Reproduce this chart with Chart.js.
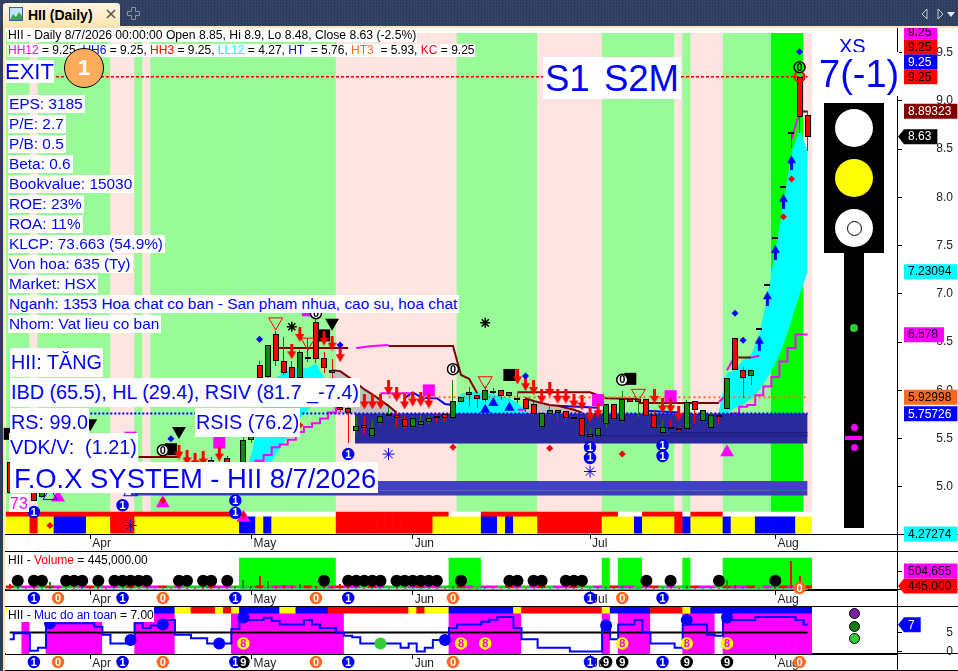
<!DOCTYPE html>
<html>
<head>
<meta charset="utf-8">
<title>HII (Daily)</title>
<script src="https://cdn.jsdelivr.net/npm/chart.js"></script>
<style>
html,body{margin:0;padding:0;background:#fff;overflow:hidden}
#frame{position:relative;width:958px;height:671px;overflow:hidden;background:#fff;font-family:"Liberation Sans",Arial,sans-serif}
#frame canvas{position:absolute;left:0}
.bar{position:absolute;left:0;top:0;width:958px;height:26px;background:repeating-conic-gradient(#2c3c5a 0 25%,#34466a 0 50%) 0 0/3px 3px}
.edge{position:absolute;left:0;top:26px;width:3px;height:645px;background:#2c3c5a}
.cream{position:absolute;left:3px;top:26px;width:955px;height:2px;background:#fde4b2}
.creamL{position:absolute;left:3px;top:26px;width:2px;height:645px;background:#fde4b2}
.tab{position:absolute;left:3px;top:3px;width:117px;height:23px;background:linear-gradient(#fff6e2,#fde4b2);border-radius:3px 3px 0 0;font:bold 14px "Liberation Sans";color:#000;line-height:24px;text-indent:25px}
.rule{position:absolute;left:5px;width:953px;height:1px;background:#000}
.axis{position:absolute;left:897px;top:28px;width:1px;height:643px;background:#000}
.t{position:absolute;background:#fff;color:#0000ff;white-space:nowrap;font-family:"Liberation Sans",Arial,sans-serif}
.h{font-size:12px;color:#000;height:13px;line-height:13px;padding:0 1px}
.l{font-size:15.4px;left:8px;height:18px;line-height:18px;padding:0 2px 0 1px}
.b{font-size:19.8px;height:29px;line-height:29px;padding:0 1px}
.dot{position:absolute;border-radius:50%}
.shape{position:absolute;background:#000}
</style>
</head>
<body>
<div id="frame">
  <div class="bar"></div><div class="edge"></div><div class="cream"></div><div class="creamL"></div>
  <div class="tab">HII (Daily)</div>
  <svg style="position:absolute;left:9px;top:7px" width="14" height="14"><rect x=".5" y=".5" width="13" height="13" fill="#bfe3f7" stroke="#35618f"/><path d="M1 13 L4 7 L7 10 L10 5 L13 9 L13 13Z" fill="#3fa34d"/></svg>
  <svg style="position:absolute;left:105px;top:9px" width="12" height="10"><path d="M2 1 L10 9 M10 1 L2 9" stroke="#555" stroke-width="1.6"/></svg>
  <svg style="position:absolute;left:127px;top:7px" width="13" height="13"><path d="M4.5 .5 H8.5 V4.5 H12.5 V8.5 H8.5 V12.5 H4.5 V8.5 H.5 V4.5 H4.5Z" fill="none" stroke="#8b94a5"/></svg>
  <svg style="position:absolute;left:920px;top:7px" width="36" height="14"><path d="M7 2 L2 7 L7 12Z M18 2 L23 7 L18 12Z" fill="none" stroke="#c4cad6"/><path d="M27 5 H35 L31 10Z" fill="#e6e9ef"/></svg>

  <div class="rule" style="top:534px"></div>
  <div class="rule" style="top:551px"></div>
  <div class="rule" style="top:589px"></div>
  <div class="rule" style="top:606px"></div>
  <div class="rule" style="top:653px"></div>
  <div class="rule" style="top:670px"></div>
  <div class="axis"></div>

  <canvas id="priceChart" style="top:28px" width="958" height="523"></canvas>
  <canvas id="volumeChart" style="top:551px" width="958" height="56"></canvas>
  <canvas id="safetyChart" style="top:606px" width="958" height="65"></canvas>

  <div class="t h" style="left:7px;top:29px;font-size:12.15px">HII - Daily 8/7/2026 00:00:00 Open 8.85, Hi 8.9, Lo 8.48, Close 8.63 (-2.5%)</div>
  <div class="t h" style="left:7px;top:44px"><span style="color:#ff00ff">HH12</span> = 9.25, <span style="color:#0000ff">HH6</span> = 9.25, <span style="color:#ff0000">HH3</span> = 9.25, <span style="color:#00ffff">LL12</span> = 4.27, <span style="color:#0000ff">HT</span> &nbsp;= 5.76, <span style="color:#ff6a1f">HT3</span> &nbsp;= 5.93, <span style="color:#ff0000">KC</span> = 9.25</div>
  <div class="t" style="left:5px;top:60px;font-size:22px;height:23px;line-height:23px">EXIT</div>
  <div class="dot" style="left:64px;top:48px;width:38px;height:38px;background:#ffad5c;border:1px solid #000;color:#fff;font:bold 22px/38px 'Liberation Sans';text-align:center">1</div>
  <div class="t" style="left:543px;top:57px;font-size:36.5px;height:42px;line-height:44px;padding:0 2px;word-spacing:-3px">S1&nbsp; S2M</div>

  <div class="t l" style="top:95px">EPS: 3185</div>
  <div class="t l" style="top:115px">P/E: 2.7</div>
  <div class="t l" style="top:135px">P/B: 0.5</div>
  <div class="t l" style="top:155px">Beta: 0.6</div>
  <div class="t l" style="top:175px">Bookvalue: 15030</div>
  <div class="t l" style="top:195px">ROE: 23%</div>
  <div class="t l" style="top:215px">ROA: 11%</div>
  <div class="t l" style="top:235px">KLCP: 73.663 (54.9%)</div>
  <div class="t l" style="top:255px">Von hoa: 635 (Ty)</div>
  <div class="t l" style="top:275px">Market: HSX</div>
  <div class="t l" style="top:295px">Nganh: 1353 Hoa chat co ban - San pham nhua, cao su, hoa chat</div>
  <div class="t l" style="top:315px">Nhom: Vat lieu co ban</div>

  <div class="t b" style="left:10px;top:348px">HII: TĂNG</div>
  <div class="t b" style="left:10px;top:378px">IBD (65.5), HL (29.4), RSIV (81.7 _-7.4)</div>
  <div class="t b" style="left:10px;top:408px">RS: 99.0</div>
  <div class="t b" style="left:195px;top:408px">RSIS (76.2)</div>
  <div class="t b" style="left:9px;top:433px">VDK/V:&nbsp; (1.21)</div>
  <div class="t" style="left:10px;top:462px;font-size:27.4px;height:31px;line-height:33px;padding:0 2px 0 4px">F.O.X SYSTEM - HII 8/7/2026</div>
  <div class="t" style="left:9px;top:494px;font-size:16px;height:18px;line-height:19px;color:#ff00ff;padding:0 1px">73</div>

  <div class="t" style="left:839px;top:35px;font-size:20px;line-height:22px;background:none">XS</div>
  <div class="t" style="left:819px;top:52px;font-size:38px;height:44px;line-height:44px">7(-1)</div>

  <div class="shape" style="left:824px;top:103px;width:60px;height:150px"></div>
  <div class="shape" style="left:844px;top:253px;width:20px;height:275px"></div>
  <div class="dot" style="left:835px;top:109px;width:38px;height:38px;background:#fff"></div>
  <div class="dot" style="left:835px;top:159px;width:38px;height:38px;background:#ffff00"></div>
  <div class="dot" style="left:835px;top:209px;width:38px;height:38px;background:#fff"></div>
  <div class="dot" style="left:847px;top:221px;width:13px;height:13px;border:1px solid #000"></div>
  <div class="dot" style="left:850px;top:324px;width:8px;height:8px;background:#32cd32"></div>
  <div class="dot" style="left:851px;top:424px;width:7px;height:7px;background:#ff00ff"></div>
  <div class="shape" style="left:845px;top:436px;width:17px;height:4px;background:#ff00ff"></div>
  <div class="dot" style="left:851px;top:444px;width:7px;height:7px;background:#ff00ff"></div>

  <div class="t h" style="left:7px;top:554px;height:13px"><span style="color:#000">HII - </span><span style="color:#ff0000">Volume</span> = 445,000.00</div>
  <div class="t h" style="left:7px;top:607px;height:15px;line-height:17px;width:145px"><span style="color:#000">HII - </span><span style="color:#0000ff">Muc do an toan</span> <span style="color:#000">= 7.00</span></div>
  <div class="dot" style="left:849px;top:608px;width:9px;height:9px;background:#7b1fa2;border:1px solid #000"></div>
  <div class="dot" style="left:849px;top:621px;width:9px;height:9px;background:#0a7d0a;border:1px solid #000"></div>
  <div class="dot" style="left:849px;top:633px;width:9px;height:9px;background:#32cd32;border:1px solid #000"></div>
</div>

<script>
// ─── Price panel data (bar 0 = first visible day, bar 99 = 8/7/2026) ─────────
const monthTicks = [10, 30, 50, 72, 95];
const monthNames = ['Apr', 'May', 'Jun', 'Jul', 'Aug'];
const priceTicks = [5, 5.5, 6, 6.5, 7, 7.5, 8, 8.5, 9, 9.5];

const openPx = [5.26,5.00,5.05,5.02,4.90,5.02,5.08,5.05,5.09,5.06,5.10,5.08,5.05,5.02,5.06,5.10,5.12,5.08,5.12,5.10,
  5.14,5.15,5.12,5.10,5.08,5.28,5.14,5.30,5.18,5.20,5.49,6.26,6.14,6.58,6.30,6.24,6.13,6.35,6.71,6.34,
  6.21,5.83,5.82,5.58,5.64,5.53,5.66,5.73,5.75,5.70,5.62,5.64,5.67,5.73,5.76,5.71,5.88,5.98,5.95,5.90,
  5.99,6.00,5.94,5.92,5.91,5.86,5.62,5.76,5.80,5.79,5.72,5.71,5.52,5.53,5.65,5.86,5.68,5.91,5.88,5.91,
  5.75,5.56,5.62,5.61,5.60,5.89,5.68,5.61,5.75,5.81,6.54,6.21,6.15,6.65,7.10,7.59,8.12,8.68,9.25,8.85];
const highPx = [5.30,5.05,5.12,5.05,5.05,5.10,5.12,5.10,5.14,5.12,5.15,5.12,5.08,5.08,5.12,5.18,5.18,5.14,5.18,5.16,
  5.20,5.20,5.18,5.16,5.14,5.31,5.18,5.32,5.22,5.52,5.70,6.30,6.47,6.62,6.55,6.30,6.42,6.54,6.78,6.40,
  6.33,5.88,5.85,5.72,5.72,5.68,5.76,5.84,5.78,5.73,5.74,5.76,5.73,5.76,5.76,6.11,5.93,6.04,5.95,6.05,
  6.02,6.00,5.98,5.97,5.93,5.88,5.77,5.86,5.80,5.79,5.72,5.71,5.61,5.61,5.86,5.86,5.99,5.91,5.91,5.91,
  5.79,5.69,5.69,5.62,5.90,5.89,5.80,5.78,5.75,6.13,6.54,6.24,6.21,6.65,7.10,7.59,8.12,8.68,9.25,8.90];
const lowPx = [4.90,4.96,5.00,4.85,4.88,5.00,5.03,5.02,5.05,5.04,5.06,5.02,5.00,4.98,5.03,5.06,5.06,5.04,5.08,5.06,
  5.08,5.08,5.06,5.04,5.02,5.12,5.08,5.14,5.10,5.16,5.45,6.05,6.10,6.25,6.16,6.08,6.10,6.29,6.28,6.18,
  6.05,5.78,5.46,5.56,5.55,5.52,5.64,5.72,5.62,5.60,5.61,5.62,5.65,5.66,5.67,5.71,5.87,5.84,5.82,5.88,
  5.96,5.90,5.93,5.87,5.78,5.74,5.62,5.73,5.67,5.67,5.71,5.53,5.51,5.53,5.61,5.70,5.66,5.88,5.72,5.74,
  5.61,5.56,5.61,5.57,5.60,5.65,5.68,5.61,5.65,5.81,6.21,5.92,6.06,6.64,7.09,7.58,8.11,8.51,8.67,8.48];
const closePx = [4.94,5.04,5.02,4.85,5.02,5.08,5.05,5.09,5.06,5.10,5.08,5.05,5.02,5.06,5.10,5.12,5.08,5.12,5.10,5.14,
  5.10,5.10,5.08,5.06,5.04,5.14,5.16,5.18,5.20,5.49,5.68,6.13,6.47,6.30,6.18,6.13,6.40,6.33,6.33,6.23,
  6.18,5.80,5.77,5.63,5.61,5.61,5.73,5.76,5.71,5.62,5.71,5.68,5.71,5.72,5.71,5.89,5.93,5.95,5.91,6.00,
  5.97,5.94,5.98,5.91,5.81,5.76,5.77,5.80,5.77,5.71,5.71,5.53,5.55,5.61,5.86,5.70,5.91,5.88,5.91,5.74,
  5.61,5.62,5.61,5.60,5.88,5.80,5.80,5.75,5.74,6.13,6.21,6.13,6.21,6.64,7.09,7.58,8.11,8.67,8.83,8.63];

// day colour bands, each run is [colour key, first bar after the run]
const priceBandRuns = [['G',3],['P',4],['G',13],['P',16],['G',17],['P',18],['G',41],['P',56],['G',66],['P',74],['G',83],['P',84],['G',85],['P',89],['G',95],['L',99],['P',100]];
const signalRowA = [['R',29],['W',41],['R',55],['W',59],['R',76],['W',79],['R',84],['W',85],['R',89],['W',100]];
const signalRowB = [['Y',3],['R',4],['Y',6],['B',10],['Y',13],['R',16],['Y',29],['B',31],['Y',32],['B',33],['Y',41],['R',53],['Y',59],['B',61],['Y',62],['B',63],['Y',66],['R',74],['Y',78],['B',79],['Y',83],['R',84],['B',85],['Y',89],['B',90],['Y',93],['B',98],['Y',100]];

const cyanLeftTop = [[29,5.08],[30,5.35],[31,5.71],[32,6.05],[33,6.13],[34,6.18],[35,6.23],[36,6.23],[37,6.23],[38,6.28],[39,6.13],[40,5.98]];
const cyanLeftLow = [[29,5.06],[30,5.06],[31,5.09],[32,5.19],[33,5.33],[34,5.46],[35,5.59],[36,5.71],[37,5.80],[38,5.87],[39,5.94],[40,5.98]];
const cyanMidTop = [[55,5.77],[56,5.96],[57,5.98],[58,5.98],[59,5.97],[60,5.96],[61,5.94],[62,5.92],[63,5.87],[64,5.80]];
const cyanRightTop = [[88,5.79],[89,6.18],[90,6.21],[91,6.32],[92,6.37],[93,6.58],[94,6.97],[95,7.45],[96,7.94],[97,8.46],[98,8.70],[99,8.49]];
const cyanRightLow = [[88,5.76],[89,5.76],[90,5.82],[91,5.86],[92,5.92],[93,6.00],[94,6.13],[95,6.28],[96,6.47],[97,6.73],[98,6.99],[99,7.23]];
const greyTopA = [[40,6.21],[41,6.20],[42,6.14],[43,6.08],[44,6.01],[45,5.96],[46,5.90],[47,5.84],[48,5.77]];
const greyTopB = [[64,5.92],[65,5.89],[66,5.87],[67,5.85],[68,5.84],[69,5.82],[70,5.80],[71,5.77]];

const brownLine = [[16,5.31],[21,5.31],null,[33,6.44],[42,6.44],null,[47,6.46],[55,6.46],[56,6.16],[57,6.12],[58,5.97],null,[63,5.98],[72,5.98],[74,5.92],[78,5.91],null,[78,5.87],[88,5.87],null,[90,6.34],[92,6.34],null,[98,8.89],[99,8.89]];
const brownDescent = [[40,6.21],[41,6.20],[42,6.14],[43,6.08],[44,6.01],[45,5.96],[46,5.90],[47,5.84],[48,5.77],null,[64,5.92],[65,5.89],[66,5.87],[67,5.85],[68,5.84],[69,5.82],[70,5.80],[71,5.77]];
const magentaUpper = [[43,6.44],[45,6.46],[47,6.47],null,[46,5.97],[50,5.97],null,[63,5.80],[64,5.80],null,[88,5.88],[89,5.96],null,[89,6.21],[90,6.36],null,[92,6.34],[93,6.36],null,[97,8.60],[98,8.89]];
const magentaSteps = [[30,5.20],[31,5.27],[32,5.33],[33,5.41],[34,5.44],[35,5.49],[36,5.57],[37,5.62],[38,5.66],[39,5.71],[40,5.77],[41,5.85],null,[89,5.72],[90,5.76],[91,5.83],[92,5.85],[93,5.95],[94,6.04],[95,6.14],[96,6.30],[97,6.44],[98,6.58],[99,6.58]];
const blueLine = [[49,5.92],[50,5.98],[51,5.93],[52,5.92],[53,5.92],[54,5.86],[55,5.85],null,[68,5.84],[73,5.82],null,[79,5.79],[83,5.77]];
const navyLevels = [[42.84,5.76],[99,5.76]];
const navyFloor = 5.45;
const indigoLevels = [[15,5.06],[99,5.06]];
const indigoFloor = 4.96;
const indigoLower = [[15,4.96],[99,4.96]];
const indigoLowerFloor = 4.91;
const darkRuleA = [[73,5.53],[99,5.53]];
const darkRuleB = [[82,5.56],[99,5.56]];
const hhLevel = [[5.75,9.25],[99,9.25]];
const htLevel = [[10,5.76],[99,5.76]];
const ht3Level = [[47,5.93],[99,5.93]];

// ─── Price panel marks: [bar, price] ─────────────────────────────────────────
const sellArrows = [[21,5.36],[22,5.30],[23,5.27],[24,5.29],[26,5.34],[35,6.40],[36,6.58],[39,6.54],[40,6.49],[41,6.37],[44,5.88],[45,5.88],[46,5.88],[47,6.03],[48,5.96],[49,5.88],[50,5.91],[51,5.91],[52,5.89],[63,6.14],[64,6.07],[65,6.03],[66,5.94],[67,6.01],[68,5.94],[69,5.94],[70,5.89],[71,5.87],[72,5.75],[73,5.79],[80,5.94],[81,5.84],[82,5.84],[83,5.76]];
const buyArrows = [[93,6.49],[94,6.95],[95,7.43],[96,7.96],[97,8.36]];
const blueWedges = [[59,5.80],[60,5.87],[62,5.82]];
const redDiamonds = [[5,4.60],[19,4.86],[29,4.71],[36,5.64],[55,5.41],[67,5.40],[76,5.34],[96,7.80],[97,8.19]];
const blueDiamonds = [[20,5.50],[31,6.53],[41,6.47],[64,6.15],[90,6.80],[91,6.52],[98,9.51]];
const magentaSquares = [[15,5.51],[26,5.46],[37,6.83],[52,6.00],[73,5.90],[82,5.94]];
const blackSquares = [[0,5.55],[20,5.39],[39,6.57],[62,6.16],[77,6.12]];
const magentaWedges = [[6,4.89],[19,4.83],[29,4.68],[89,5.36]];
const hollowWedges = [[5,4.91],[15,4.95]];
const hollowDrops = [[33,6.71],[37,6.50],[59,6.10],[78,5.97]];
const blackDrops = [[10,5.66],[21,5.58],[40,6.70]];
const blackStars = [[35,6.66],[59,6.70]];
const snowMarks = [[15,4.60],[47,5.34],[72,5.16]];
const exitRing = [[98,9.25]];

const priceBadges = [[3,4.74,'blue','1'],[14,4.81,'blue','1'],[28,4.86,'blue','1'],[28,4.73,'blue','1'],[42,5.34,'blue','1'],[72,5.41,'blue','1'],[72,5.30,'blue','1'],[81,5.43,'blue','1'],[81,5.32,'blue','1'],
  [19,5.38,'open','0'],[38,6.80,'open','0'],[55,6.22,'open','0'],[76,6.11,'open','0'],[98,9.35,'lime','0']];

const priceTagValues = [9.25,9.25,9.25,9.25,8.89323,8.63,7.23094,6.578,5.92998,5.75726,4.27274];
const priceTagTexts = ['9.25','9.25','9.25','9.25','8.89323','8.63','7.23094','6.578','5.92998','5.75726','4.27274'];
const priceTagFills = ['#ff00ff','#ff0000','#0000ff','#ff0000','#800000','#000000','#00ffff','#ff00ff','#ff6a1f','#0000ff','#00ffff'];
const priceTagInks = ['#000','#000','#fff','#000','#fff','#fff','#000','#000','#000','#fff','#000'];
const priceTagPoint = [false,false,false,false,false,true,false,false,false,false,false];

// ─── Volume panel data ───────────────────────────────────────────────────────
const volumeTicks = [2500000];
const volumes = [700000,300000,200000,300000,200000,1000000,300000,200000,200000,300000,200000,300000,200000,200000,300000,200000,200000,300000,200000,300000,
  200000,300000,200000,200000,300000,200000,300000,200000,400000,1300000,400000,1800000,1200000,500000,600000,400000,700000,400000,500000,300000,
  400000,700000,400000,200000,200000,300000,200000,200000,300000,200000,200000,200000,300000,200000,200000,500000,200000,200000,200000,300000,
  200000,200000,300000,200000,200000,200000,300000,200000,200000,200000,300000,200000,200000,300000,300000,200000,400000,300000,200000,200000,
  300000,200000,200000,200000,400000,200000,200000,200000,200000,1300000,600000,300000,300000,200000,200000,300000,450000,4000000,1900000,445000];
const volumeSpots = [1,3,4,7,8,9,11,13,14,15,16,17,21,22,24,25,27,39,42,43,44,45,46,48,49,50,51,52,53,56,62,63,65,66,69,70,71,79,82,88,95];
const volumeSpotLevel = 1180000;
const volumeBandRuns = [['W',29],['L',41],['W',55],['L',59],['W',74],['L',75],['W',76],['L',79],['W',84],['L',85],['W',89],['L',100]];
const volumeStrip = 'rgmmgrmggmrgmmgrgmmrgmgggrmmgggrgmmmgrggmrmmgrmgggmrmmggrmgmmgrmgmrgmmrggmgrmmgmrgmggrmmgrmmrgmgrmrr';
const volumeBadges = [[98,'orange','0']];
const volumeAxisBadges = [[3,'blue','1'],[6,'orange','0'],[14,'blue','1'],[19,'orange','0'],[28,'blue','1'],[38,'orange','0'],[42,'blue','1'],[55,'orange','0'],[72,'blue','1'],[76,'orange','0'],[81,'blue','1']];
const volumeTagValues = [504655,445000];
const volumeTagTexts = ['504,655','445,000'];
const volumeTagFills = ['#ff00ff','#ff0000'];
const volumeTagInks = ['#000','#000'];
const volumeTagPoint = [false,true];

// ─── Safety panel data ───────────────────────────────────────────────────────
const safetyTicks = [0, 5];
const safetyLevels = [3.3,4.8,4.8,0.3,1.1,7.4,7.4,7.4,7.4,7.4,7.4,6.5,4.4,2.2,2.2,3.1,7.4,6.2,6.8,7.0,
  8.2,4.4,4.4,3.5,3.5,2.2,2.2,2.2,5.9,9.0,8.2,8.2,8.8,8.0,7.1,7.1,7.1,8.2,7.1,6.2,
  6.2,4.9,4.2,3.8,2.2,2.2,2.2,2.2,2.2,1.1,2.2,0.1,1.1,3.1,3.1,6.2,7.1,7.1,7.1,7.8,
  8.3,9.0,9.0,6.2,3.3,3.3,1.1,1.1,1.1,1.1,0.1,0.1,0.1,0.1,6.8,3.3,7.1,7.1,8.2,5.1,
  2.2,2.2,2.2,1.1,7.1,7.1,7.1,4.4,4.2,8.2,8.2,8.2,8.2,9.0,9.0,9.0,9.0,9.0,8.2,7.1];
const safetyLine = [[0,5],[99,5]];
const safetyBandRuns = [['W',2],['M',3],['W',5],['M',12],['W',16],['M',21],['W',28],['M',42],['W',55],['M',64],['W',74],['M',75],['W',76],['M',80],['W',84],['M',88],['W',89],['M',100]];
const safetyTopRuns = [['Y',18],['B',21],['Y',23],['R',26],['Y',27],['R',28],['Y',29],['B',34],['Y',36],['B',40],['R',50],['Y',51],['R',52],['Y',55],['B',63],['Y',64],['R',74],['Y',75],['B',80],['R',84],['Y',85],['B',100]];
const safetyBlueSpots = [[5,7.4],[15,3.1],[19,7.1],[26,2.2],[29,8.9],[54,3.1],[74,6.8],[84,8.2],[89,8.9]];
const safetyGreenSpots = [[46,2.2]];
const safetyBadges = [[29,2.2,'eight','8'],[56,2.2,'eight','8'],[59,2.2,'eight','8'],[76,2.2,'eight','8'],[84,2.2,'eight','8'],[89,2.2,'eight','8']];
const safetyAxisBadges = [[3,'blue','1'],[6,'orange','0'],[14,'blue','1'],[19,'orange','0'],[28,'blue','1'],[29,'black','9'],[38,'orange','0'],[42,'blue','1'],[55,'orange','0'],[72,'blue','1'],[74,'black','9'],[76,'black','9'],[81,'blue','1'],[84,'black','9'],[89,'black','9'],[98,'orange','0']];
const safetyTagValues = [7];
const safetyTagTexts = ['7'];
const safetyTagFills = ['#0000ff'];
const safetyTagInks = ['#fff'];
const safetyTagPoint = [true];

// ─── Styles ──────────────────────────────────────────────────────────────────
const FONT = '"Liberation Sans", Arial, sans-serif';
const BAND_COLORS = { G:'#98fb98', P:'#ffe4e1', L:'#00ff00', R:'#ff0000', W:'#ffffff', Y:'#ffff00', B:'#0000ff', M:'#ff00ff' };
const STRIP_COLORS = { r:'#ff0000', g:'#22cc22', m:'#ff00ff' };
const BADGES = {
  blue:   { fill:'#0000ff', ring:'#0000ff', ink:'#fff' },
  orange: { fill:'#ff6a1f', ring:'#ff6a1f', ink:'#fff' },
  black:  { fill:'#000',    ring:'#000',    ink:'#fff' },
  open:   { fill:'#fff',    ring:'#000',    ink:'#000' },
  lime:   { fill:'#00ff00', ring:'#000',    ink:'#000' },
  eight:  { fill:'#ffff00', ring:'#ffff00', ink:'#ff00ff' },
};
const XMIN = -0.5, XMAX = 110.09;

function expandRuns(runs) {
  const out = [];
  runs.forEach(([key, end]) => { while (out.length < end) out.push(key); });
  return out;
}

function toPoints(list) {
  let lastX = 0;
  return list.map(p => {
    if (!p) return { x: lastX, y: null };
    lastX = p[0];
    return { x: p[0], y: p[1] };
  });
}

function arrowIcon(color, up) {
  const c = document.createElement('canvas');
  c.width = 9; c.height = 15;
  const g = c.getContext('2d');
  g.fillStyle = color;
  if (!up) { g.translate(0, 15); g.scale(1, -1); }
  g.beginPath();
  g.moveTo(4.5, 0); g.lineTo(9, 8); g.lineTo(6, 8); g.lineTo(6, 15); g.lineTo(3, 15); g.lineTo(3, 8); g.lineTo(0, 8);
  g.closePath(); g.fill();
  return c;
}

// ─── Dataset helpers ─────────────────────────────────────────────────────────
function bandSet(runs, lo, hi, order) {
  const keys = expandRuns(runs);
  return { type:'bar', data: keys.map((k, i) => ({ x:i, y:[lo, hi] })), backgroundColor: keys.map(k => BAND_COLORS[k]),
    grouped:false, barPercentage:1, categoryPercentage:1, borderWidth:0, order };
}
function fillSet(points, fill, color, order) {
  return { type:'line', data: toPoints(points), borderWidth:0, pointRadius:0, fill, backgroundColor:color, tension:0, order };
}
function lineSet(points, color, width, order, extra) {
  return Object.assign({ type:'line', data: toPoints(points), borderColor:color, borderWidth:width, pointRadius:0, fill:false, tension:0, order }, extra || {});
}
function markSet(points, style, radius, fillColor, order, extra) {
  return Object.assign({ type:'line', data: toPoints(points), showLine:false, pointStyle:style, pointRadius:radius,
    pointBackgroundColor:fillColor, pointBorderColor:fillColor, pointBorderWidth:0, order, clip:false }, extra || {});
}

// ─── Plugin: crisp candles, badges and price tags ────────────────────────────
function panelExtras(opts) {
  return {
    id: 'panelExtras',
    afterDatasetsUpdate(chart) {
      chart.data.datasets.forEach((ds, di) => {
        if (!ds.snap) return;
        chart.getDatasetMeta(di).data.forEach(el => {
          el.x = ds.snap === 'thin' ? Math.floor(el.x) + 0.5 : Math.round(el.x);
          el.y = Math.round(el.y);
          el.base = Math.round(el.base);
          if (ds.snap === 'body' && Math.abs(el.base - el.y) < 2) el.base = el.y + 2;
        });
      });
    },
    afterDraw(chart) {
      const { ctx, chartArea, scales: { x, y } } = chart;
      ctx.save();
      ctx.textAlign = 'center'; ctx.textBaseline = 'middle';
      const badge = (px, py, kind, digit) => {
        const b = BADGES[kind];
        ctx.beginPath(); ctx.arc(px, py, 5.5, 0, Math.PI * 2);
        ctx.fillStyle = b.fill; ctx.fill();
        ctx.lineWidth = 1.5; ctx.strokeStyle = b.ring; ctx.stroke();
        ctx.fillStyle = b.ink; ctx.font = `bold 11px ${FONT}`;
        ctx.fillText(digit, px, py + 0.5);
      };
      (opts.badges || []).forEach(([i, v, kind, digit]) => badge(x.getPixelForValue(i), y.getPixelForValue(v), kind, digit));
      (opts.edgeBadges || []).forEach(([i, kind, digit]) => badge(x.getPixelForValue(i), chartArea.bottom - 2, kind, digit));
      (opts.axisBadges || []).forEach(([i, kind, digit]) => badge(x.getPixelForValue(i), chartArea.bottom + 8, kind, digit));

      // axis tags sit at their value and push upward when they would overlap
      ctx.font = `12px ${FONT}`;
      ctx.textAlign = 'left';
      let ceiling = Infinity;
      for (let i = opts.tagValues.length - 1; i >= 0; i--) {
        const want = Math.min(y.getPixelForValue(opts.tagValues[i]), chartArea.bottom);
        const cy = Math.min(want, ceiling - 15);
        ceiling = cy;
        const w = ctx.measureText(opts.tagTexts[i]).width + 10;
        ctx.fillStyle = opts.tagFills[i];
        ctx.beginPath();
        if (opts.tagPoint[i]) {
          ctx.moveTo(898, cy); ctx.lineTo(904, cy - 7.5); ctx.lineTo(904 + w, cy - 7.5); ctx.lineTo(904 + w, cy + 7.5); ctx.lineTo(904, cy + 7.5);
        } else {
          ctx.rect(904, cy - 7.5, w, 15);
        }
        ctx.closePath(); ctx.fill();
        ctx.fillStyle = opts.tagInks[i];
        ctx.fillText(opts.tagTexts[i], 908, cy + 0.5);
      }
      ctx.restore();
    }
  };
}

// tick labels must not eat into the plot, the panels are only a few pixels tall
function dropScalePadding(s) {
  s.paddingTop = 0; s.paddingBottom = 0; s.paddingLeft = 0; s.paddingRight = 0;
}

// ─── Shared chart options ────────────────────────────────────────────────────
function panelOptions(yMin, yMax, yTicks, yLabel, top) {
  return {
    responsive:false, animation:false, events:[],
    layout:{ autoPadding:false, padding:{ left:5.67, right:5, top, bottom:0 } },
    plugins:{ legend:{ display:false }, tooltip:{ enabled:false } },
    scales:{
      x:{ type:'linear', min:XMIN, max:XMAX, offset:false, bounds:'data',
        grid:{ display:true, drawOnChartArea:false, offset:false, tickLength:5, tickColor:'#000' },
        border:{ color:'#000' },
        afterBuildTicks(s){ s.ticks = monthTicks.map(v => ({ value:v })); },
        afterFit(s){ s.height = 17; dropScalePadding(s); },
        ticks:{ autoSkip:false, maxRotation:0, align:'start', padding:-3, labelOffset:2, color:'#222', font:{ family:FONT, size:12 },
          callback:v => monthNames[monthTicks.indexOf(v)] } },
      y:{ type:'linear', position:'right', min:yMin, max:yMax, bounds:'data',
        grid:{ display:true, drawOnChartArea:false, tickLength:5, tickColor:'#000' },
        border:{ color:'#000' },
        afterBuildTicks(s){ s.ticks = yTicks.map(v => ({ value:v })); },
        afterFit(s){ s.width = 56; dropScalePadding(s); },
        ticks:{ crossAlign:'far', padding:0, color:'#222', font:{ family:FONT, size:12 }, callback:yLabel } }
    }
  };
}

// ─── Price chart ─────────────────────────────────────────────────────────────
const PRICE_MIN = 4.512, PRICE_MAX = 9.704;
const candleColors = openPx.map((o, i) => closePx[i] < o ? '#ff0000' : '#0e8a0e');

new Chart(document.getElementById('priceChart'), {
  type:'bar',
  data:{ datasets:[
    bandSet(priceBandRuns, 4.74, PRICE_MAX, 100),
    bandSet(signalRowA, 4.69, 4.74, 95),
    bandSet(signalRowB, 4.52, 4.69, 94),
    fillSet(indigoLevels, { value:indigoFloor }, '#4141c4', 90),
    fillSet(indigoLower, { value:indigoLowerFloor }, '#3d3db6', 89),
    fillSet(cyanLeftTop, '+1', '#00ffff', 85),
    fillSet(cyanLeftLow, false, 'transparent', 85),
    fillSet(cyanRightTop, '+1', '#00ffff', 85),
    fillSet(cyanRightLow, false, 'transparent', 85),
    fillSet(cyanMidTop, { value:5.76 }, '#00ffff', 85),
    fillSet(greyTopA, { value:5.76 }, '#c0c0c0', 84),
    fillSet(greyTopB, { value:5.76 }, '#c0c0c0', 84),
    lineSet(magentaSteps, '#ff00ff', 2, 80, { stepped:'middle' }),
    lineSet(blueLine, '#0000ff', 2, 80),
    lineSet(brownLine, '#800000', 2, 79),
    lineSet(brownDescent, '#800000', 2, 79),
    lineSet(magentaUpper, '#ff00ff', 2, 78),
    fillSet(navyLevels, { value:navyFloor }, '#2a2a9c', 70),
    lineSet(darkRuleA, '#1a1a70', 1, 69),
    lineSet(darkRuleB, '#1a1a70', 1, 69),
    lineSet(htLevel, '#0000ff', 2, 68, { borderDash:[2, 2] }),
    lineSet(ht3Level, '#ff6a1f', 2, 67, { borderDash:[2, 3] }),
    lineSet(hhLevel, '#ff00ff', 1.5, 66, { borderDash:[1, 4] }),
    lineSet(hhLevel, '#ff0000', 1.5, 65, { borderDash:[3, 2] }),
    markSet(blueWedges, 'triangle', 6, '#0000ff', 60),
    { type:'bar', data: lowPx.map((l, i) => ({ x:i, y:[l, highPx[i]] })), backgroundColor:candleColors, grouped:false, barPercentage:1, categoryPercentage:1, maxBarThickness:1, inflateAmount:0, borderWidth:0, snap:'thin', order:50 },
    { type:'bar', data: openPx.map((o, i) => ({ x:i, y:[o, closePx[i]] })), backgroundColor:candleColors, borderColor:'#000', borderWidth:1, borderSkipped:false, grouped:false, barPercentage:1, categoryPercentage:1, maxBarThickness:6, inflateAmount:0, snap:'body', order:49 },
    markSet(magentaSquares, 'rect', 8.5, '#ff00ff', 48),
    markSet(blackSquares, 'rect', 8.5, '#000', 47),
    markSet(magentaWedges, 'triangle', 8, '#ff00ff', 46),
    markSet(hollowWedges, 'triangle', 8, 'transparent', 45, { pointBorderColor:'#0000ff', pointBorderWidth:1 }),
    markSet(hollowDrops, 'triangle', 8, 'transparent', 44, { pointBorderColor:'#ff0000', pointBorderWidth:1, pointRotation:180 }),
    markSet(blackDrops, 'triangle', 8, '#000', 43, { pointRotation:180 }),
    markSet(sellArrows, arrowIcon('#ff0000', false), 8, '#ff0000', 42),
    markSet(buyArrows, arrowIcon('#0000ff', true), 8, '#0000ff', 41),
    markSet(redDiamonds, 'rectRot', 3.5, '#ff0000', 40),
    markSet(blueDiamonds, 'rectRot', 3.5, '#0000ff', 39),
    markSet(blackStars, 'star', 5, '#000', 38, { pointBorderWidth:1.5 }),
    markSet(snowMarks, 'star', 6, '#0000ff', 37, { pointBorderWidth:1 }),
    markSet(exitRing, 'circle', 5, 'transparent', 36, { pointBorderColor:'#ff0000', pointBorderWidth:2 }),
  ]},
  options: panelOptions(PRICE_MIN, PRICE_MAX, priceTicks, v => v.toFixed(1), 5),
  plugins:[ panelExtras({ badges:priceBadges, tagValues:priceTagValues, tagTexts:priceTagTexts, tagFills:priceTagFills, tagInks:priceTagInks, tagPoint:priceTagPoint }) ]
});

// ─── Volume chart ────────────────────────────────────────────────────────────
new Chart(document.getElementById('volumeChart'), {
  type:'bar',
  data:{ datasets:[
    bandSet(volumeBandRuns, 0, 4440000, 100),
    { type:'bar', data: volumeStrip.split('').map((c, i) => ({ x:i, y:[150000, 450000] })), backgroundColor: volumeStrip.split('').map(c => STRIP_COLORS[c]), grouped:false, barPercentage:1, categoryPercentage:1, borderWidth:0, order:90 },
    { type:'bar', data: volumes.map((v, i) => ({ x:i, y:[0, v] })), backgroundColor:candleColors, grouped:false, barPercentage:1, categoryPercentage:1, maxBarThickness:2, inflateAmount:0, borderWidth:0, snap:'wide', order:80 },
    lineSet([[0,-20000],[99,-20000]], '#66e0e0', 1, 70),
    markSet(volumeSpots.map(i => [i, volumeSpotLevel]), 'circle', 6, '#000', 60),
  ]},
  options: panelOptions(-148000, 5330000, volumeTicks, () => '', 1),
  plugins:[ panelExtras({ edgeBadges:volumeBadges, axisBadges:volumeAxisBadges, tagValues:volumeTagValues, tagTexts:volumeTagTexts, tagFills:volumeTagFills, tagInks:volumeTagInks, tagPoint:volumeTagPoint }) ]
});

// ─── Safety chart ────────────────────────────────────────────────────────────
new Chart(document.getElementById('safetyChart'), {
  type:'bar',
  data:{ datasets:[
    bandSet(safetyBandRuns, -0.53, 10, 100),
    bandSet(safetyTopRuns, 10, 11.58, 99),
    lineSet(safetyLine, '#000', 2, 80),
    lineSet(safetyLevels.map((v, i) => [i, v]), '#0000ff', 2, 70, { stepped:'middle' }),
    markSet(safetyBlueSpots, 'circle', 6, '#0000ff', 60),
    markSet(safetyGreenSpots, 'circle', 6, '#32cd32', 59),
  ]},
  options: panelOptions(-0.53, 11.58, safetyTicks, v => String(v), 1),
  plugins:[ panelExtras({ badges:safetyBadges, axisBadges:safetyAxisBadges, tagValues:safetyTagValues, tagTexts:safetyTagTexts, tagFills:safetyTagFills, tagInks:safetyTagInks, tagPoint:safetyTagPoint }) ]
});
</script>
</body>
</html>
